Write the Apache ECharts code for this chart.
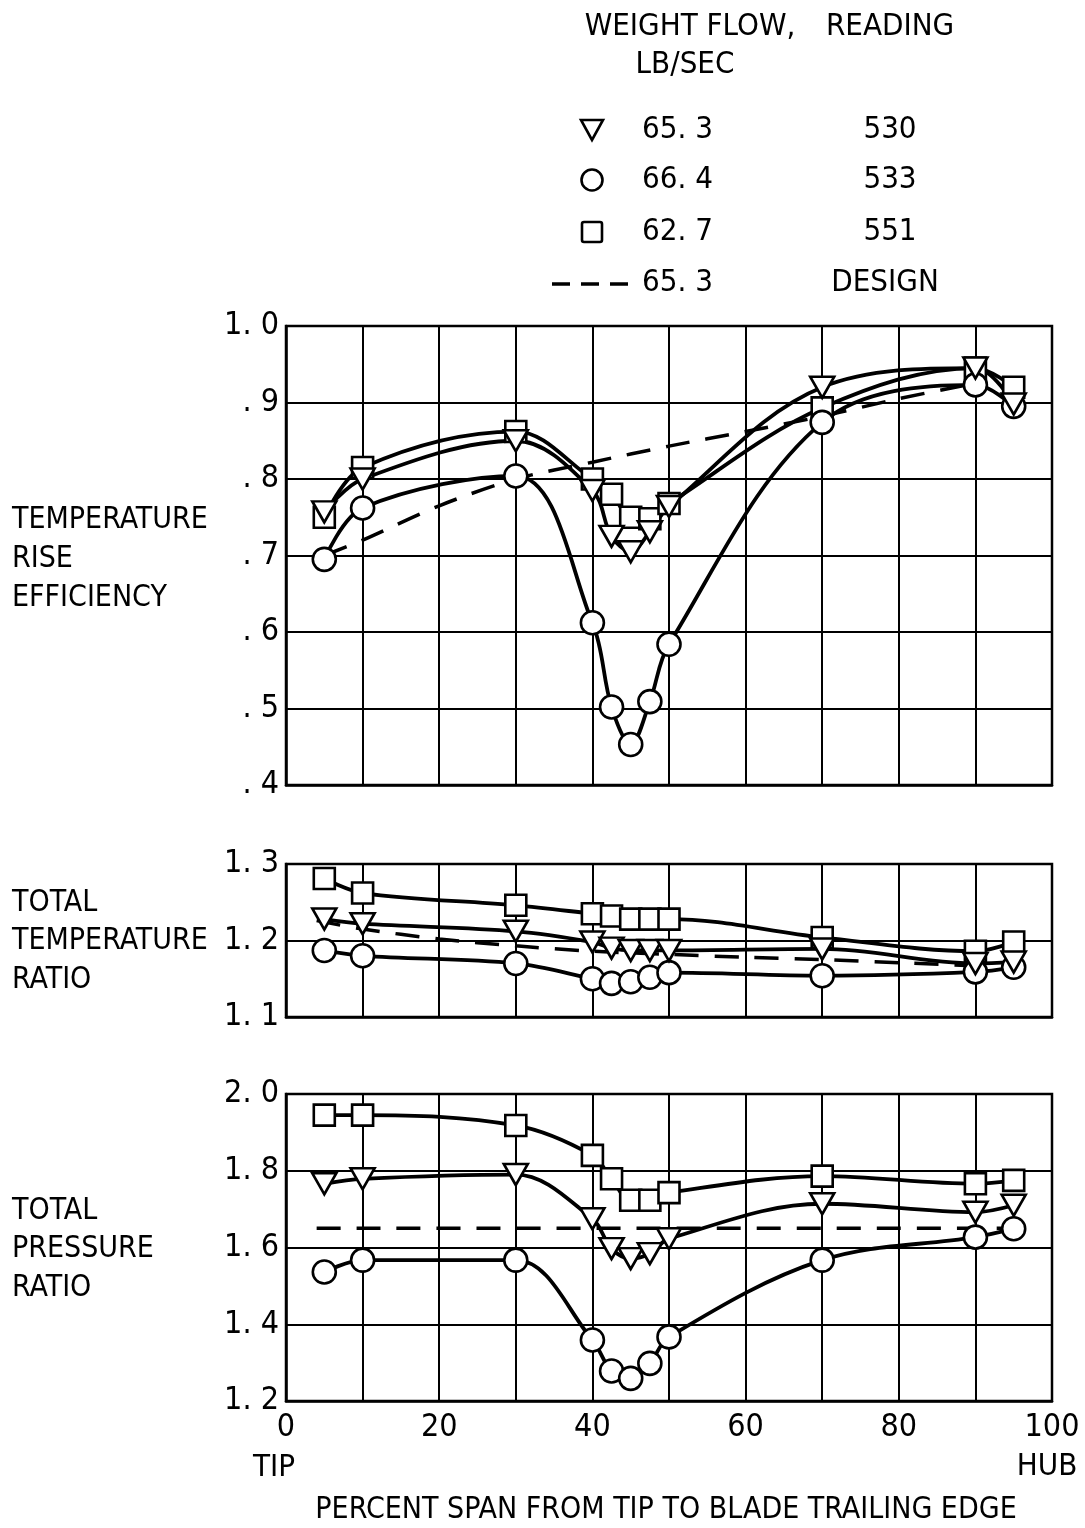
<!DOCTYPE html>
<html>
<head>
<meta charset="utf-8">
<script src="https://cdn.jsdelivr.net/npm/echarts@6/dist/echarts.min.js"></script>
<style>
html,body{margin:0;padding:0;background:#fff;}
#chart{width:1085px;height:1528px;}
</style>
</head>
<body>
<div id="chart"></div>
<script>
// ---------- DATA ----------
const xSpan = [5, 10, 30, 40, 42.5, 45, 47.5, 50, 70, 90, 95];

// Temperature rise efficiency
const effTri = [0.757, 0.800, 0.850, 0.785, 0.725, 0.705, 0.731, 0.764, 0.920, 0.945, 0.898];
const effCir = [0.695, 0.762, 0.804, 0.612, 0.502, 0.453, 0.509, 0.584, 0.874, 0.923, 0.895];
const effSq  = [0.750, 0.815, 0.862, 0.800, 0.780, 0.750, 0.748, 0.768, 0.893, 0.945, 0.920];
const effDesignX = [5, 10, 20, 30, 40, 50, 60, 70, 80, 90];
const effDesign  = [0.700, 0.720, 0.765, 0.800, 0.822, 0.843, 0.862, 0.882, 0.905, 0.925];

// Total temperature ratio
const ttrTri = [1.228, 1.222, 1.212, 1.198, 1.190, 1.187, 1.187, 1.187, 1.189, 1.170, 1.172];
const ttrCir = [1.187, 1.180, 1.170, 1.150, 1.144, 1.146, 1.152, 1.158, 1.154, 1.159, 1.165];
const ttrSq  = [1.281, 1.262, 1.246, 1.235, 1.232, 1.228, 1.228, 1.228, 1.204, 1.186, 1.198];
const ttrDesignX = [4, 10, 20, 30, 40, 50, 60, 70, 80, 92];
const ttrDesign  = [1.226, 1.215, 1.202, 1.193, 1.186, 1.182, 1.178, 1.175, 1.171, 1.166];

// Total pressure ratio
const tprTri = [1.766, 1.779, 1.790, 1.675, 1.597, 1.571, 1.584, 1.623, 1.714, 1.692, 1.710];
const tprCir = [1.536, 1.567, 1.567, 1.359, 1.278, 1.259, 1.298, 1.367, 1.567, 1.627, 1.649];
const tprSq  = [1.945, 1.945, 1.918, 1.840, 1.779, 1.723, 1.723, 1.743, 1.786, 1.766, 1.775];
const tprDesignX = [4, 98];
const tprDesign  = [1.650, 1.650];

// Tick labels
const xTickLabels = ['0', '', '20', '', '40', '', '60', '', '80', '', '100'];
const effTickLabels = ['. 4', '. 5', '. 6', '. 7', '. 8', '. 9', '1. 0'];
const ttrTickLabels = ['1. 1', '1. 2', '1. 3'];
const tprTickLabels = ['1. 2', '1. 4', '1. 6', '1. 8', '2. 0'];

// Legend table
const legendFlows = ['65. 3', '66. 4', '62. 7', '65. 3'];
const legendReadings = ['530', '533', '551', 'DESIGN'];

// ---------- CHART ----------
const FONT = "'Liberation Sans Narrow', 'DejaVu Sans Condensed', 'Liberation Sans', sans-serif";
const zip = (xs, ys) => xs.map((x, i) => [x, ys[i]]);

const grids = [
  {left: 286, right: 33, top: 326, height: 459},
  {left: 286, right: 33, top: 864, height: 153},
  {left: 286, right: 33, top: 1094, height: 307}
].map(g => Object.assign({show: true, borderColor: '#000', borderWidth: 2.5, backgroundColor: 'transparent'}, g));

function xAxisFor(i) {
  return {
    type: 'value', gridIndex: i, min: 0, max: 100, interval: 10,
    axisLine: {show: true, lineStyle: {color: '#000', width: 2.5}},
    axisTick: {show: false},
    splitLine: {show: true, lineStyle: {color: '#000', width: 2}},
    axisLabel: {
      show: i === 2, color: '#000', fontSize: 32, fontFamily: FONT, margin: 11,
      formatter: v => xTickLabels[Math.round(v / 10)] || ''
    }
  };
}
function yAxisFor(i, min, max, interval, labels) {
  return {
    type: 'value', gridIndex: i, min: min, max: max, interval: interval,
    axisLine: {show: true, lineStyle: {color: '#000', width: 2.5}},
    axisTick: {show: false},
    splitLine: {show: true, lineStyle: {color: '#000', width: 2}},
    axisLabel: {
      color: '#000', fontSize: 32, fontFamily: FONT, margin: 7,
      formatter: v => labels[Math.round((v - min) / interval)] || ''
    }
  };
}

function curve(gi, xs, ys, dashed) {
  return {
    type: 'line', xAxisIndex: gi, yAxisIndex: gi, data: zip(xs, ys),
    smooth: dashed ? 0.3 : 0.35, showSymbol: false, symbol: 'none',
    lineStyle: dashed ? {color: '#000', width: 3.5, type: [24, 16], opacity: 1}
                      : {color: '#000', width: 3.8, opacity: 1},
    z: 2, silent: true, animation: false
  };
}
const markerDefs = {
  sq:  {symbol: 'rect', symbolSize: 21, symbolRotate: 0},
  cir: {symbol: 'circle', symbolSize: 23, symbolRotate: 0},
  tri: {symbol: 'triangle', symbolSize: [24, 21], symbolRotate: 180}
};
function marks(gi, xs, ys, kind) {
  const d = markerDefs[kind];
  return {
    type: 'scatter', xAxisIndex: gi, yAxisIndex: gi, data: zip(xs, ys),
    symbol: d.symbol, symbolSize: d.symbolSize, symbolRotate: d.symbolRotate,
    itemStyle: {color: '#fff', borderColor: '#000', borderWidth: 2.6, opacity: 1},
    z: 5, silent: true, animation: false
  };
}

const series = [];
const panels = [
  [effTri, effCir, effSq, effDesignX, effDesign],
  [ttrTri, ttrCir, ttrSq, ttrDesignX, ttrDesign],
  [tprTri, tprCir, tprSq, tprDesignX, tprDesign]
];
panels.forEach((p, gi) => {
  series.push(curve(gi, xSpan, p[0]));
  series.push(curve(gi, xSpan, p[1]));
  series.push(curve(gi, xSpan, p[2]));
  series.push(curve(gi, p[3], p[4], true));
  series.push(marks(gi, xSpan, p[2], 'sq'));
  series.push(marks(gi, xSpan, p[1], 'cir'));
  series.push(marks(gi, xSpan, p[0], 'tri'));
});

function txt(x, y, s, align, size) {
  return {type: 'text', x: x, y: y, silent: true,
    style: {text: s, fill: '#000', font: (size || 30) + 'px ' + FONT, textAlign: align || 'left', textVerticalAlign: 'middle'}};
}
const graphic = [];
// Left titles
[['TEMPERATURE', 520], ['RISE', 559], ['EFFICIENCY', 598],
 ['TOTAL', 903], ['TEMPERATURE', 941], ['RATIO', 980],
 ['TOTAL', 1211], ['PRESSURE', 1249], ['RATIO', 1288]].forEach(t => graphic.push(txt(12, t[1], t[0])));
// Bottom texts
graphic.push(txt(274, 1468, 'TIP', 'center', 31));
graphic.push(txt(1047, 1467, 'HUB', 'center', 31));
graphic.push(txt(666, 1510, 'PERCENT SPAN FROM TIP TO BLADE TRAILING EDGE', 'center'));
// Legend header
graphic.push(txt(690, 27, 'WEIGHT FLOW,', 'center', 31));
graphic.push(txt(890, 27, 'READING', 'center', 31));
graphic.push(txt(685, 65, 'LB/SEC', 'center', 31));
const rowY = [130, 180, 232, 283];
rowY.forEach((y, i) => {
  graphic.push(txt(642, y, legendFlows[i], 'left', 31));
  graphic.push(txt(i === 3 ? 885 : 890, y, legendReadings[i], 'center', 31));
});
const lg = {stroke: '#000', fill: 'none', lineWidth: 2.6};
graphic.push({type: 'polygon', silent: true, shape: {points: [[581, 120], [603, 120], [592, 140]]}, style: lg});
graphic.push({type: 'circle', silent: true, shape: {cx: 592, cy: 180, r: 10.5}, style: lg});
graphic.push({type: 'rect', silent: true, shape: {x: 582, y: 222, width: 20, height: 20, r: 2}, style: lg});
graphic.push({type: 'line', silent: true, shape: {x1: 552, y1: 284, x2: 630, y2: 284},
  style: {stroke: '#000', lineWidth: 3.5, lineDash: [18, 11]}});

const chart = echarts.init(document.getElementById('chart'), null, {renderer: 'canvas'});
chart.setOption({
  backgroundColor: '#fff',
  animation: false,
  grid: grids,
  xAxis: [xAxisFor(0), xAxisFor(1), xAxisFor(2)],
  yAxis: [
    yAxisFor(0, 0.4, 1.0, 0.1, effTickLabels),
    yAxisFor(1, 1.1, 1.3, 0.1, ttrTickLabels),
    yAxisFor(2, 1.2, 2.0, 0.2, tprTickLabels)
  ],
  series: series,
  graphic: graphic
});
</script>
</body>
</html>
